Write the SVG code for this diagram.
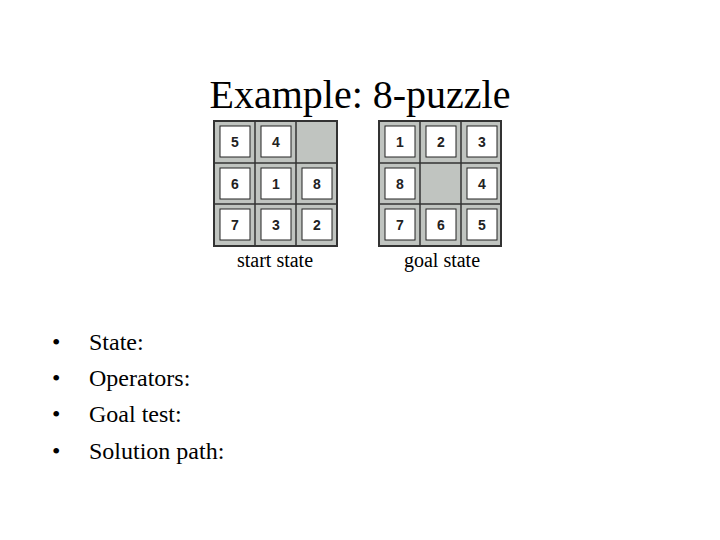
<svg xmlns="http://www.w3.org/2000/svg" width="720" height="540" viewBox="0 0 720 540">
<defs>
<style>
.t{font-family:"Liberation Serif",serif;fill:#000}
.g{fill:#c0c4c0;stroke:#333;stroke-width:2}
.l{stroke:#333;stroke-width:1.5}
.w{fill:#fff;stroke:#222;stroke-width:1}
.n{font-family:"Liberation Sans",Arial,sans-serif;font-weight:bold;font-size:14px;text-anchor:middle;fill:#222}
</style>
<g id="tile"><rect class="w" x="6" y="5" width="30" height="31"/></g>
</defs>
<rect width="720" height="540" fill="#fff"/>
<text class="t" x="360" y="108" font-size="40" text-anchor="middle">Example: 8-puzzle</text>
<g id="start">
<rect class="g" x="214" y="121" width="123" height="125"/>
<line class="l" x1="255" y1="121" x2="255" y2="246"/><line class="l" x1="296" y1="121" x2="296" y2="246"/>
<line class="l" x1="214" y1="163" x2="337" y2="163"/><line class="l" x1="214" y1="204" x2="337" y2="204"/>
<use href="#tile" x="214" y="121"/><use href="#tile" x="255" y="121"/>
<use href="#tile" x="214" y="163"/><use href="#tile" x="255" y="163"/><use href="#tile" x="296" y="163"/>
<use href="#tile" x="214" y="204"/><use href="#tile" x="255" y="204"/><use href="#tile" x="296" y="204"/>
<text class="n" x="235" y="147">5</text><text class="n" x="276" y="147">4</text>
<text class="n" x="235" y="189">6</text><text class="n" x="276" y="189">1</text><text class="n" x="317" y="189">8</text>
<text class="n" x="235" y="230">7</text><text class="n" x="276" y="230">3</text><text class="n" x="317" y="230">2</text>
</g>
<g id="goal">
<rect class="g" x="379" y="121" width="122" height="125"/>
<line class="l" x1="420" y1="121" x2="420" y2="246"/><line class="l" x1="461" y1="121" x2="461" y2="246"/>
<line class="l" x1="379" y1="163" x2="501" y2="163"/><line class="l" x1="379" y1="204" x2="501" y2="204"/>
<use href="#tile" x="379" y="121"/><use href="#tile" x="420" y="121"/><use href="#tile" x="461" y="121"/>
<use href="#tile" x="379" y="163"/><use href="#tile" x="461" y="163"/>
<use href="#tile" x="379" y="204"/><use href="#tile" x="420" y="204"/><use href="#tile" x="461" y="204"/>
<text class="n" x="400" y="147" font-weight="normal">1</text><text class="n" x="441" y="147">2</text><text class="n" x="482" y="147">3</text>
<text class="n" x="400" y="189">8</text><text class="n" x="482" y="189">4</text>
<text class="n" x="400" y="230">7</text><text class="n" x="441" y="230">6</text><text class="n" x="482" y="230">5</text>
</g>
<text class="t" x="275" y="267" font-size="20" text-anchor="middle">start state</text>
<text class="t" x="442" y="267" font-size="20" text-anchor="middle">goal state</text>
<g class="t" font-size="24">
<text x="52" y="350">•</text><text x="89" y="350">State:</text>
<text x="52" y="386">•</text><text x="89" y="386">Operators:</text>
<text x="52" y="422">•</text><text x="89" y="422">Goal test:</text>
<text x="52" y="459">•</text><text x="89" y="459">Solution path:</text>
</g>
</svg>
